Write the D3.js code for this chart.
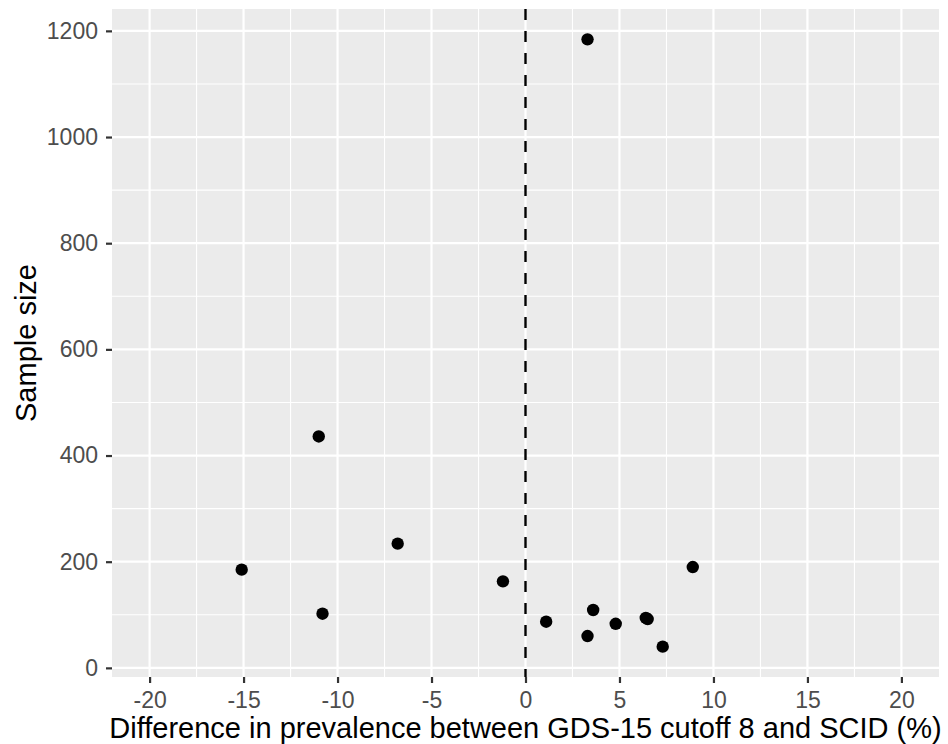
<!DOCTYPE html>
<html>
<head>
<meta charset="utf-8">
<script src="https://cdn.jsdelivr.net/npm/d3@7"></script>
<style>
    body { margin: 0; background: #ffffff; }
    text { font-family: "Liberation Sans", Arial, Helvetica, sans-serif; }
</style>
</head>
<body>
<div id="chart-area"></div>
<script>
// values
const diffPct    = [3.3, -11.0, -6.8, -15.1, -10.8, -1.2, 1.1, 3.6, 3.3, 4.8, 6.4, 6.5, 7.3, 8.9];
const sampleSize = [1184, 436, 234, 185, 102, 163, 87, 109, 60, 83, 94, 92, 40, 190];
const xTicks = [-20, -15, -10, -5, 0, 5, 10, 15, 20];
const xMinor = [-17.5, -12.5, -7.5, -2.5, 2.5, 7.5, 12.5, 17.5];
const yTicks = [0, 200, 400, 600, 800, 1000, 1200];
const yMinor = [100, 300, 500, 700, 900, 1100];
const xLabel = "Difference in prevalence between GDS-15 cutoff 8 and SCID (%)";
const yLabel = "Sample size";

class Scatter {
    constructor(_parentElement) {
        this.parentElement = _parentElement;
        this.initVis();
    }

    initVis() {
        let vis = this;
        vis.margin = { top: 9, right: 9, bottom: 67, left: 112 };
        vis.width = 948 - vis.margin.left - vis.margin.right;
        vis.height = 744 - vis.margin.top - vis.margin.bottom;

        vis.svg = d3.select("#" + vis.parentElement).append("svg")
            .attr("width", 948)
            .attr("height", 744)
            .append("g")
            .attr("transform", "translate(" + vis.margin.left + "," + vis.margin.top + ")");

        // ggplot style 5% expansion
        let yExt = d3.extent(sampleSize);
        let yPad = (yExt[1] - yExt[0]) * 0.05;
        vis.x = d3.scaleLinear().domain([-22, 22]).range([0, vis.width]);
        vis.y = d3.scaleLinear().domain([yExt[0] - yPad, yExt[1] + yPad]).range([vis.height, 0]);

        vis.data = diffPct.map((d, i) => ({ x: d, y: sampleSize[i] }));

        vis.updateVis();
    }

    updateVis() {
        let vis = this;

        vis.svg.append("rect")
            .attr("width", vis.width)
            .attr("height", vis.height)
            .attr("fill", "#ebebeb");

        // minor grid
        vis.svg.selectAll(".xminor").data(xMinor).enter().append("line")
            .attr("x1", d => vis.x(d)).attr("x2", d => vis.x(d))
            .attr("y1", 0).attr("y2", vis.height)
            .attr("stroke", "#fff").attr("stroke-width", 1.1);
        vis.svg.selectAll(".yminor").data(yMinor).enter().append("line")
            .attr("y1", d => vis.y(d)).attr("y2", d => vis.y(d))
            .attr("x1", 0).attr("x2", vis.width)
            .attr("stroke", "#fff").attr("stroke-width", 1.1);

        // major grid
        vis.svg.selectAll(".xmajor").data(xTicks).enter().append("line")
            .attr("x1", d => vis.x(d)).attr("x2", d => vis.x(d))
            .attr("y1", 0).attr("y2", vis.height)
            .attr("stroke", "#fff").attr("stroke-width", 2.2);
        vis.svg.selectAll(".ymajor").data(yTicks).enter().append("line")
            .attr("y1", d => vis.y(d)).attr("y2", d => vis.y(d))
            .attr("x1", 0).attr("x2", vis.width)
            .attr("stroke", "#fff").attr("stroke-width", 2.2);

        // reference line at zero
        vis.svg.append("line")
            .attr("x1", vis.x(0)).attr("x2", vis.x(0))
            .attr("y1", 0).attr("y2", vis.height)
            .attr("stroke", "#000").attr("stroke-width", 2.4)
            .attr("stroke-dasharray", "11,11");

        vis.svg.selectAll(".dot").data(vis.data).enter().append("circle")
            .attr("class", "dot")
            .attr("cx", d => vis.x(d.x))
            .attr("cy", d => vis.y(d.y))
            .attr("r", 6.2)
            .attr("fill", "#000");

        // axes, plain hyphen and no thousands separator like R
        let fmt = d => String(d);
        let xAxis = d3.axisBottom(vis.x).tickValues(xTicks).tickSize(6).tickPadding(9).tickFormat(fmt);
        let yAxis = d3.axisLeft(vis.y).tickValues(yTicks).tickSize(6).tickPadding(8).tickFormat(fmt);

        let gx = vis.svg.append("g")
            .attr("transform", "translate(0," + vis.height + ")")
            .call(xAxis);
        let gy = vis.svg.append("g").call(yAxis);

        [gx, gy].forEach(g => {
            g.select(".domain").remove();
            g.selectAll(".tick line").attr("stroke", "#333").attr("stroke-width", 2.2);
            g.selectAll(".tick text")
                .attr("fill", "#4d4d4d")
                .style("font-size", "23px")
                .style("font-family", "'Liberation Sans', Arial, sans-serif");
        });

        vis.svg.append("text")
            .attr("x", vis.width / 2)
            .attr("y", 738 - vis.margin.top)
            .attr("text-anchor", "middle")
            .style("font-size", "29px")
            .text(xLabel);

        vis.svg.append("text")
            .attr("transform", "translate(" + (36 - vis.margin.left) + "," + vis.height / 2 + ") rotate(-90)")
            .attr("text-anchor", "middle")
            .style("font-size", "29px")
            .text(yLabel);
    }
}

new Scatter("chart-area");
</script>
</body>
</html>
